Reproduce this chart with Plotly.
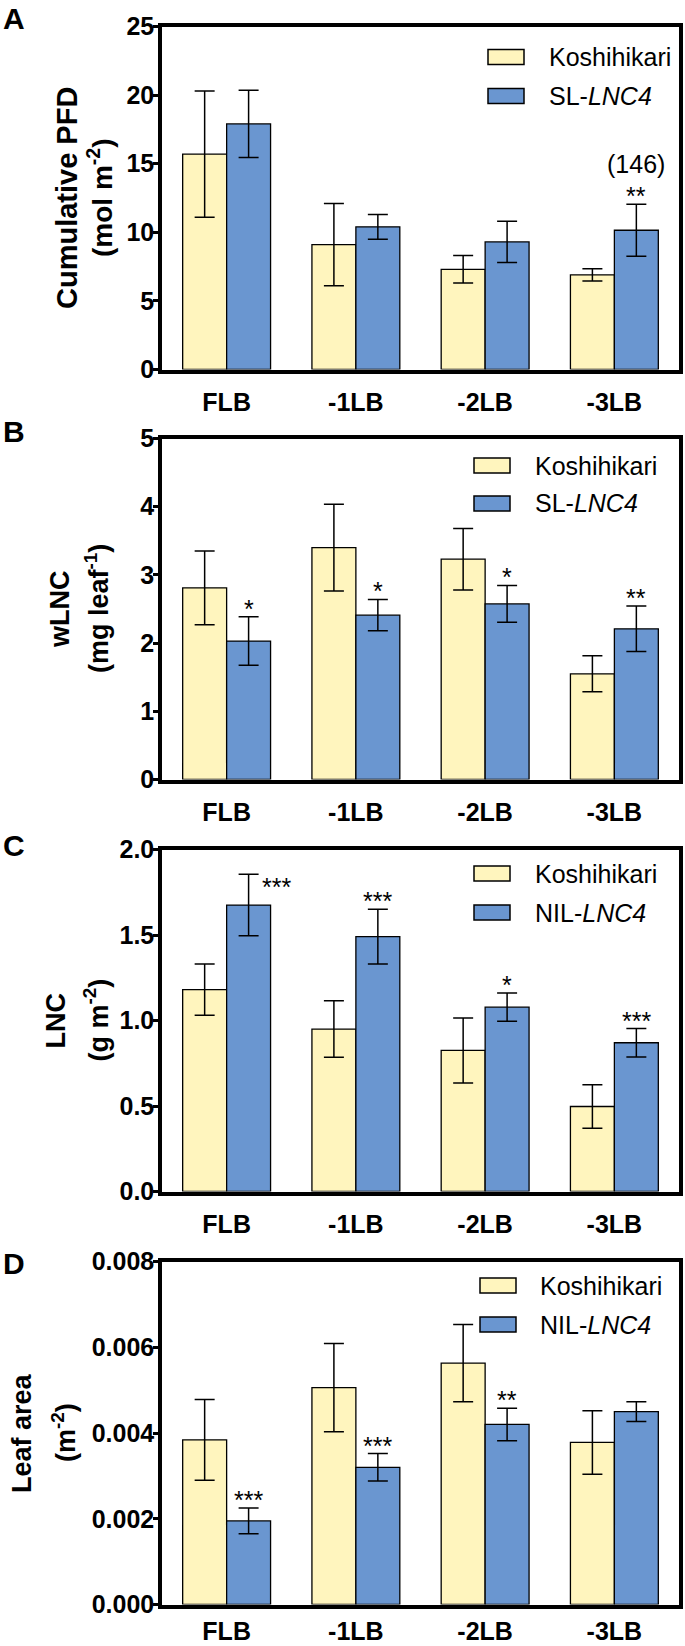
import plotly.graph_objects as go

# ---------------- data ----------------
categories = ["FLB", "-1LB", "-2LB", "-3LB"]

koshi_pfd = [15.7, 9.1, 7.3, 6.9]
koshi_pfd_err = [4.6, 3.0, 1.0, 0.45]
sl_pfd = [17.9, 10.4, 9.3, 10.15]
sl_pfd_err = [2.45, 0.9, 1.5, 1.9]
sig_pfd = ["", "", "", "**"]
note_pfd = ["", "", "", "(146)"]

koshi_wlnc = [2.81, 3.40, 3.23, 1.55]
koshi_wlnc_err = [0.54, 0.635, 0.45, 0.265]
sl_wlnc = [2.03, 2.41, 2.575, 2.21]
sl_wlnc_err = [0.355, 0.23, 0.27, 0.335]
sig_wlnc = ["*", "*", "*", "**"]

koshi_lnc = [1.18, 0.95, 0.825, 0.497]
koshi_lnc_err = [0.15, 0.165, 0.19, 0.127]
nil_lnc = [1.675, 1.49, 1.078, 0.87]
nil_lnc_err = [0.18, 0.16, 0.083, 0.083]
sig_lnc = ["***", "***", "*", "***"]

koshi_area = [0.00384, 0.00506, 0.00563, 0.00378]
koshi_area_err = [0.00094, 0.00103, 0.0009, 0.00074]
nil_area = [0.00195, 0.0032, 0.0042, 0.0045]
nil_area_err = [0.0003, 0.00032, 0.00038, 0.00023]
sig_area = ["***", "***", "**", ""]

# ---------------- style ----------------
YELLOW = "#FFF5BE"
BLUE = "#6A96D0"
FONT = "Liberation Sans, Arial, sans-serif"
W, H = 685, 1646
ML, MR, MT, MB = 162, 6, 26, 41
PW = W - ML - MR
PH = H - MT - MB
BARGAP = 0.32


def px2paper(px):
    return (px - ML) / PW


def py2paper(py):
    return 1 - (py - MT) / PH


panels = [
    dict(letter="A", top=26.5, bot=369.5, rng=[0, 25], dtick=5, fmt="d",
         k=koshi_pfd, ke=koshi_pfd_err, s=sl_pfd, se=sl_pfd_err, sig=sig_pfd, note=note_pfd,
         t1="Cumulative PFD", t2="(mol m<sup>-2</sup>)", t1x=67, t2x=100, t1s=29, t2s=28,
         name2="SL-<i>LNC4</i>", leg=(488, 547, 30.5, 69.5), lety=18, xstand=8),
    dict(letter="B", top=438.5, bot=779.5, rng=[0, 5], dtick=1, fmt="d",
         k=koshi_wlnc, ke=koshi_wlnc_err, s=sl_wlnc, se=sl_wlnc_err, sig=sig_wlnc, note=None,
         t1="wLNC", t2="(mg leaf<sup>-1</sup>)", t1x=60, t2x=97, t1s=27, t2s=27,
         name2="SL-<i>LNC4</i>", leg=(474, 533, 27, 65), lety=432, xstand=8),
    dict(letter="C", top=849.5, bot=1191.5, rng=[0, 2], dtick=0.5, fmt=".1f",
         k=koshi_lnc, ke=koshi_lnc_err, s=nil_lnc, se=nil_lnc_err, sig=sig_lnc, note=None,
         t1="LNC", t2="(g m<sup>-2</sup>)", t1x=55, t2x=96, t1s=27, t2s=27,
         name2="NIL-<i>LNC4</i>", leg=(474, 533, 24, 63), lety=845, xstand=8),
    dict(letter="D", top=1261.5, bot=1604.5, rng=[0, 0.008], dtick=0.002, fmt=".3f",
         k=koshi_area, ke=koshi_area_err, s=nil_area, se=nil_area_err, sig=sig_area, note=None,
         t1="Leaf area", t2="(m<sup>-2</sup>)", t1x=22, t2x=64, t1s=27, t2s=27,
         name2="NIL-<i>LNC4</i>", leg=(480, 538, 24, 63), lety=1263, xstand=2),
]

fig = go.Figure()
annotations = []
shapes = []
half = (1 - BARGAP) / 4  # offset of each bar centre from category centre

for i, p in enumerate(panels, start=1):
    xa = "x" if i == 1 else f"x{i}"
    ya = "y" if i == 1 else f"y{i}"
    for vals, errs, col in ((p["k"], p["ke"], YELLOW), (p["s"], p["se"], BLUE)):
        fig.add_trace(go.Bar(
            x=categories, y=vals, xaxis=xa, yaxis=ya, showlegend=False,
            marker=dict(color=col, line=dict(color="black", width=1.3)),
            error_y=dict(type="data", array=errs, color="black", thickness=1.5, width=10),
        ))
    axkey = "" if i == 1 else str(i)
    fig.update_layout(**{
        f"xaxis{axkey}": dict(
            domain=[0, 1], anchor=ya, type="category", range=[-0.5, 3.5],
            showline=True, linewidth=3.5, linecolor="black", mirror=True,
            ticks="", showgrid=False, zeroline=False, automargin=False,
            ticklabelstandoff=p["xstand"],
            tickfont=dict(family=FONT, size=25, color="black", weight="bold"),
        ),
        f"yaxis{axkey}": dict(
            domain=[py2paper(p["bot"]), py2paper(p["top"])], anchor=xa,
            range=p["rng"], dtick=p["dtick"], tick0=0, tickformat=p["fmt"],
            ticks="outside", ticklen=5, tickwidth=3, tickcolor="black",
            showline=True, linewidth=3.5, linecolor="black", mirror=True,
            showgrid=False, zeroline=False, automargin=False,
            ticklabelstandoff=-6,
            tickfont=dict(family=FONT, size=25, color="black", weight="bold"),
        ),
    })

    # significance stars
    for j, cat in enumerate(categories):
        star = p["sig"][j]
        top_val = p["s"][j] + p["se"][j]
        if star:
            xs, ys = 0, 8
            if p["letter"] == "C" and j == 0:
                xs, ys = 28, -13
            annotations.append(dict(
                x=j + half, y=top_val, xref=xa, yref=ya, text=star, showarrow=False,
                xanchor="center", yanchor="middle", xshift=xs, yshift=ys,
                font=dict(family=FONT, size=25, color="black"),
            ))
        if p["note"] and p["note"][j]:
            annotations.append(dict(
                x=j + half, y=top_val, xref=xa, yref=ya, text=p["note"][j], showarrow=False,
                xanchor="center", yanchor="middle", yshift=40,
                font=dict(family=FONT, size=25, color="black"),
            ))

    # y title lines
    ymid = py2paper((p["top"] + p["bot"]) / 2)
    for txt, xpx, fs in ((p["t1"], p["t1x"], p["t1s"]), (p["t2"], p["t2x"], p["t2s"])):
        annotations.append(dict(
            x=px2paper(xpx), y=ymid, xref="paper", yref="paper", text=f"<b>{txt}</b>",
            textangle=-90, showarrow=False, xanchor="center", yanchor="middle",
            font=dict(family=FONT, size=fs, color="black"),
        ))

    # panel letter
    annotations.append(dict(
        x=px2paper(14), y=py2paper(p["lety"]), xref="paper", yref="paper",
        text=f"<b>{p['letter']}</b>", showarrow=False, xanchor="center", yanchor="middle",
        font=dict(family=FONT, size=30, color="black"),
    ))

    # custom legend
    sw_l, tx_l, r1, r2 = p["leg"]
    for off, col, name in ((r1, YELLOW, "Koshihikari"), (r2, BLUE, p["name2"])):
        cy = p["top"] + off
        shapes.append(dict(
            type="rect", xref="paper", yref="paper",
            x0=px2paper(sw_l), x1=px2paper(sw_l + 36),
            y0=py2paper(cy + 7.5), y1=py2paper(cy - 7.5),
            fillcolor=col, line=dict(color="black", width=1.5),
        ))
        annotations.append(dict(
            x=px2paper(tx_l), y=py2paper(cy), xref="paper", yref="paper", text=name,
            showarrow=False, xanchor="left", yanchor="middle",
            font=dict(family=FONT, size=25, color="black"),
        ))

fig.update_layout(
    width=W, height=H, template="none",
    margin=dict(l=ML, r=MR, t=MT, b=MB, autoexpand=False),
    paper_bgcolor="white", plot_bgcolor="white",
    barmode="group", bargap=BARGAP, bargroupgap=0,
    annotations=annotations, shapes=shapes, showlegend=False,
)

fig.write_html(
    "out.html",
    config={"displayModeBar": False},
    post_script="document.body.style.margin='0px';document.body.style.overflow='hidden';",
)
